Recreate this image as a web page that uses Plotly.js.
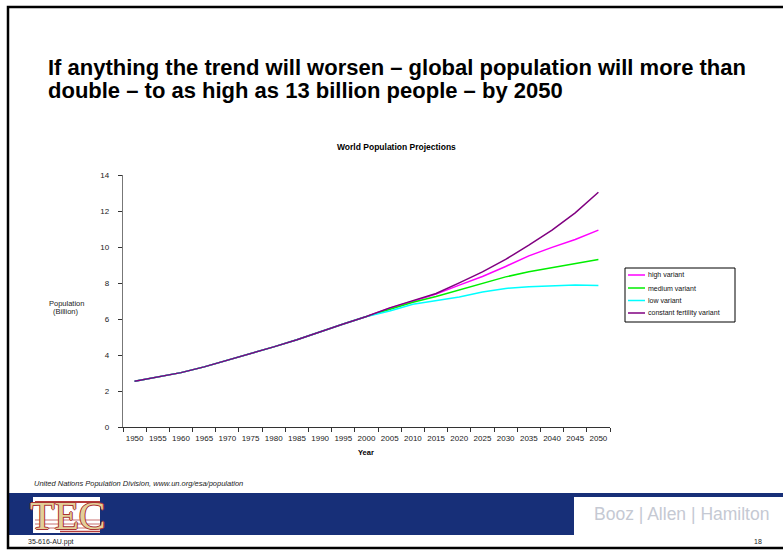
<!DOCTYPE html>
<html>
<head>
<meta charset="utf-8">
<script src="https://cdn.plot.ly/plotly-3.0.1.min.js"></script>
<style>
html,body{margin:0;padding:0;background:#fff;}
#chart{width:783px;height:550px;}
</style>
</head>
<body>
<div id="chart"></div>
<script>
// ---- data (billions) ----
const years = ["1950","1955","1960","1965","1970","1975","1980","1985","1990","1995","2000",
               "2005","2010","2015","2020","2025","2030","2035","2040","2045","2050"];
const history = [2.54,2.77,3.02,3.34,3.70,4.08,4.45,4.85,5.30,5.72,6.14];
const highVariant     = [6.60,6.99,7.38,7.88,8.36,8.92,9.51,9.98,10.42,10.94];
const mediumVariant   = [6.55,6.93,7.25,7.62,7.97,8.34,8.62,8.85,9.09,9.31];
const lowVariant      = [6.45,6.82,7.00,7.22,7.50,7.70,7.79,7.84,7.89,7.86];
const constantVariant = [6.62,7.02,7.42,8.01,8.62,9.31,10.10,10.94,11.90,13.04];
const seriesNames = ["high variant","medium variant","low variant","constant fertility variant"];
const seriesColors = ["#ff00ff","#00ee00","#00ffff","#800080"];

// ---- geometry helpers (pixel -> paper) ----
const W=783,H=550,L=123,R=173,T=175,B=123;
const PW=W-L-R, PH=H-T-B;
const X = px => (px-L)/PW;
const Y = py => (H-B-py)/PH;

const all = [highVariant,mediumVariant,lowVariant,constantVariant];
const traces = all.map((v,i)=>({
  x: years,
  y: history.concat(v),
  type:'scatter', mode:'lines',
  name: seriesNames[i],
  line:{color:seriesColors[i], width:1.5},
  hoverinfo:'skip'
}));

const baseFont = {family:'"Liberation Sans", Arial, sans-serif', color:'#000'};
const f = o => Object.assign({}, baseFont, o);

function txt(text, px, py, size, opts){
  return Object.assign({
    text:text, xref:'paper', yref:'paper', x:X(px), y:Y(py),
    showarrow:false, xanchor:'left', yanchor:'middle',
    font:f({size:size})
  }, opts||{});
}
function rect(x0,y0,x1,y1,fill,line){
  return {type:'rect', xref:'paper', yref:'paper',
    x0:X(x0), x1:X(x1), y0:Y(y0), y1:Y(y1),
    fillcolor:fill||'rgba(0,0,0,0)',
    line: line||{width:0}, layer:'above'};
}
function hline(x0,x1,y,color,w){
  return {type:'line', xref:'paper', yref:'paper', x0:X(x0), x1:X(x1), y0:Y(y), y1:Y(y),
    line:{color:color,width:w}, layer:'above'};
}

const shapes = [
  // footer band
  rect(9,493,783,535,'#172f78'),
  rect(574,497,783,535,'#ffffff'),
  // TEC logo box
  rect(33,497,100,533,'#ffffff'),
  hline(35,100,502,'#b33a3a',2),
  hline(35,100,520,'#c87070',1),
  hline(35,100,524,'#c87070',1),
  hline(35,100,528,'#c87070',1),
  hline(60,100,531.5,'#b33a3a',1.5),
  // legend box
  rect(625,268,735,322,'#ffffff',{color:'#000',width:1}),
  // slide frame
  rect(8,7,792,548,null,{color:'#000',width:2.5})
];

const annotations = [
  txt('If anything the trend will worsen – global population will more than', 46, 68, 22, {font:f({size:22, weight:700})}),
  txt('double – to as high as 13 billion people – by 2050', 46, 90, 22, {font:f({size:22, weight:700})}),
  txt('World Population Projections', 396, 147, 8.5, {xanchor:'center', font:f({size:8.5, weight:700})}),
  txt('Population', 66, 303, 7.5, {xanchor:'center', font:f({size:7.5, color:'#222'})}),
  txt('(Billion)', 66, 311.5, 7.5, {xanchor:'center', font:f({size:7.5, color:'#222'})}),
  txt('Year', 366, 452, 7.5, {xanchor:'center', font:f({size:7.5, weight:700})}),
  txt('United Nations Population Division, www.un.org/esa/population', 32, 483, 7.5, {font:f({size:7.5, style:'italic', color:'#222'})}),
  txt('35-616-AU.ppt', 26, 541.5, 7, {font:f({size:7, color:'#222'})}),
  txt('18', 752, 541.5, 7, {font:f({size:7, color:'#222'})}),
  txt('Booz | Allen | Hamilton', 681, 514, 17.5, {xanchor:'center', font:f({size:17.5, color:'#c5c9d3'})}),
  txt('TEC', 68, 515, 40, {xanchor:'center', font:{family:'"Liberation Serif","DejaVu Serif",serif', size:40, color:'#e2cf98',
     shadow:'1px 0 0 #a83232, -1px 0 0 #a83232, 0 1px 0 #a83232, 0 -1px 0 #a83232'}})
];

// manual compact legend built from the series arrays
const legendY = [275, 288, 300.5, 313];
seriesNames.forEach((n,i)=>{
  shapes.push(hline(628,645,legendY[i],seriesColors[i],1.5));
  annotations.push(txt(n, 646, legendY[i], 7, {font:f({size:7, color:'#111'})}));
});

const layout = {
  width:W, height:H,
  margin:{l:L, r:R, t:T, b:B, pad:0},
  paper_bgcolor:'#fff', plot_bgcolor:'#fff',
  font:f({size:7.5}),
  showlegend:false,
  xaxis:{type:'category', range:[-0.5,20.5], tickson:'boundaries',
    ticks:'outside', ticklen:4, tickcolor:'#333', tickwidth:1,
    showline:true, linecolor:'#333', linewidth:1.2,
    showgrid:false, zeroline:false, tickangle:0, ticklabelstandoff:3,
    tickfont:f({size:8, color:'#222'}), fixedrange:true},
  yaxis:{range:[0,14], dtick:2, tick0:0,
    ticks:'outside', ticklen:4, tickcolor:'#333', tickwidth:1,
    showline:true, linecolor:'#777', linewidth:1.2,
    showgrid:false, zeroline:false, ticklabelstandoff:7,
    tickfont:f({size:8, color:'#222'}), fixedrange:true},
  shapes:shapes,
  annotations:annotations
};

Plotly.newPlot('chart', traces, layout, {displayModeBar:false, staticPlot:true});
</script>
</body>
</html>
